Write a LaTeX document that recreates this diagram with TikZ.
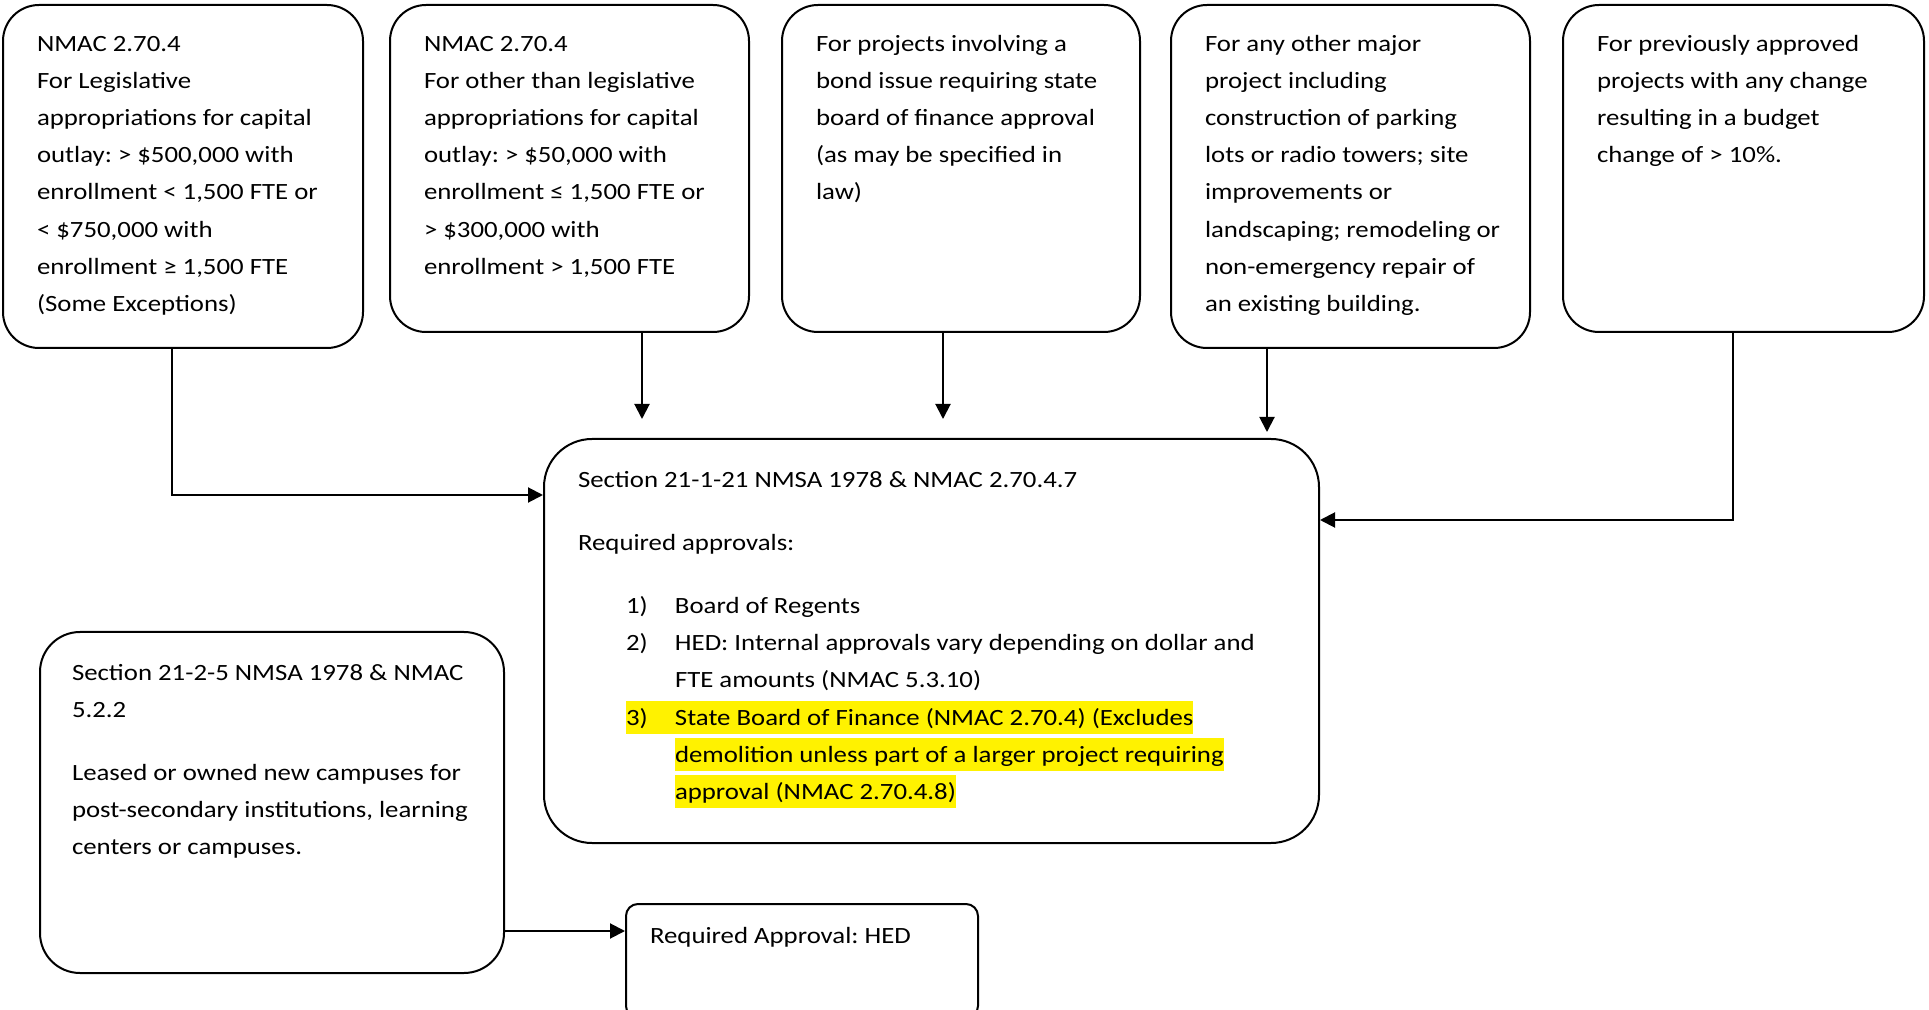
\documentclass[tikz,border=0pt]{standalone}
\usepackage{fontspec}
\setmainfont{Carlito}[FakeStretch=1.15]
\usepackage{xcolor}
\usetikzlibrary{arrows.meta}

\newcommand{\cell}[3]{\parbox[t][#2][t]{#1}{\frenchspacing\rightskip=0pt minus 20pt\strut#3}}
\newcommand{\hilite}[1]{\colorbox{yellow}{\rule[-4.5pt]{0pt}{16.5pt}#1}}
\setlength{\fboxsep}{0pt}

\begin{document}
\begin{tikzpicture}[x=0.5pt,y=-0.5pt,
    font=\fontsize{11.65pt}{18.6pt}\selectfont,
    stage/.style={draw,line width=1pt,rounded corners=18pt,anchor=north west,inner xsep=17pt,inner ysep=10pt},
    arr/.style={line width=1pt,-{Triangle[length=7.5pt,width=7.5pt]}}]
  \useasboundingbox (0,0) rectangle (1929,1010);
  % top row
  \node[stage](legis)at(2,4){\cell{146pt}{151.5pt}{NMAC 2.70.4\\For Legislative\\appropriations for capital\\outlay: > \$500,000 with\\enrollment < 1,500 FTE or\\< \$750,000 with\\enrollment ≥ 1,500 FTE\\(Some Exceptions)}};
  \node[stage](other)at(389,4){\cell{145.5pt}{143.5pt}{NMAC 2.70.4\\For other than legislative\\appropriations for capital\\outlay: > \$50,000 with\\enrollment ≤ 1,500 FTE or\\> \$300,000 with\\enrollment > 1,500 FTE}};
  \node[stage](bond)at(781,4){\cell{145pt}{143.5pt}{For projects involving a\\bond issue requiring state\\board of finance approval\\(as may be specified in\\law)}};
  \node[stage](major)at(1170,4){\cell{145.5pt}{151.5pt}{For any other major\\project including\\construction of parking\\lots or radio towers; site\\improvements or\\landscaping; remodeling or\\non-emergency repair of\\an existing building.}};
  \node[stage](change)at(1562,4){\cell{146.5pt}{143.5pt}{For previously approved\\projects with any change\\resulting in a budget\\change of > 10\%.}};
  % approvals
  \node[stage,rounded corners=24pt,inner ysep=11pt](regs)at(543,438){\cell{353.5pt}{180pt}{Section 21-1-21 NMSA 1978 \& NMAC 2.70.4.7\\[13pt]
    Required approvals:\\[13pt]
    \hspace*{24pt}\makebox[24.5pt][l]{1)}Board of Regents\\
    \hspace*{24pt}\makebox[24.5pt][l]{2)}HED: Internal approvals vary depending on dollar and\\
    \hspace*{48.5pt}FTE amounts (NMAC 5.3.10)\\
    \hspace*{24pt}\hilite{\makebox[24.5pt][l]{3)}State Board of Finance (NMAC 2.70.4) (Excludes}\\
    \hspace*{48.5pt}\hilite{demolition unless part of a larger project requiring}\\
    \hspace*{48.5pt}\hilite{approval (NMAC 2.70.4.8)}}};
  \node[stage,rounded corners=20pt,inner xsep=16pt,inner ysep=11pt](campus)at(39,631){\cell{200pt}{148.5pt}{Section 21-2-5 NMSA 1978 \& NMAC\\5.2.2\\[13pt]
    Leased or owned new campuses for\\post-secondary institutions, learning\\centers or campuses.}};
  \node[stage,rounded corners=6pt,inner xsep=12pt,inner ysep=6.5pt](hed)at(625,903){\cell{152pt}{44pt}{Required Approval: HED}};
  % connectors
  \coordinate(k1)at(172,495);
  \coordinate(k2)at(642,419);
  \coordinate(k3)at(943,419);
  \coordinate(k4)at(1267,432);
  \coordinate(k5)at(1733,520);
  \coordinate(k6)at(0,931);
  \draw[arr](legis.south -| k1)--(k1)--(regs.west |- k1);
  \foreach \b/\k in {other/k2,bond/k3,major/k4} \draw[arr](\b.south -| \k)--(\k);
  \draw[arr](change.south -| k5)--(k5)--(regs.east |- k5);
  \draw[arr](campus.east |- k6)--(hed.west |- k6);
\end{tikzpicture}
\end{document}
